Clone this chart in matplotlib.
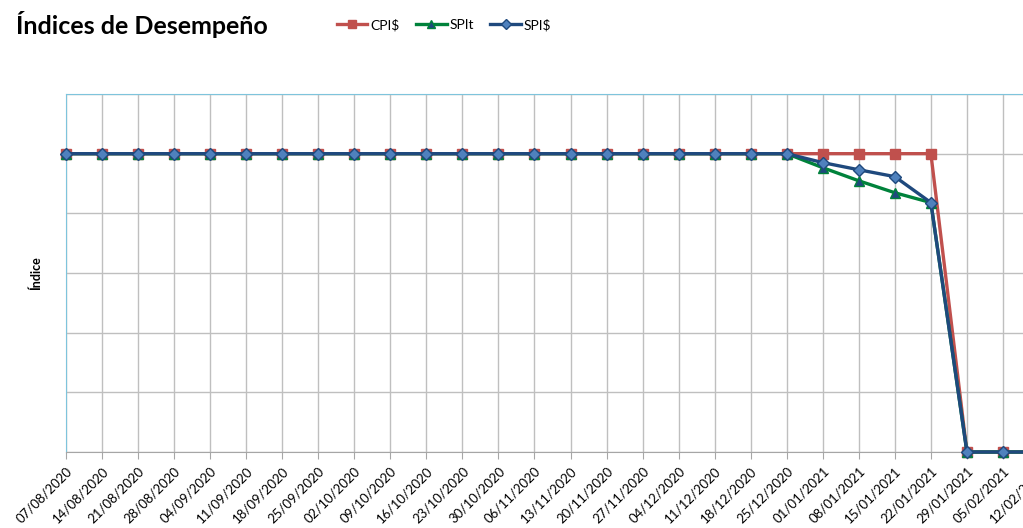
import matplotlib.pyplot as plt

plt.rcParams['font.family'] = ['Lato', 'DejaVu Sans']

# Fechas semanales (eje de categorías)
fechas = ["07/08/2020", "14/08/2020", "21/08/2020", "28/08/2020", "04/09/2020",
          "11/09/2020", "18/09/2020", "25/09/2020", "02/10/2020", "09/10/2020",
          "16/10/2020", "23/10/2020", "30/10/2020", "06/11/2020", "13/11/2020",
          "20/11/2020", "27/11/2020", "04/12/2020", "11/12/2020", "18/12/2020",
          "25/12/2020", "01/01/2021", "08/01/2021", "15/01/2021", "22/01/2021",
          "29/01/2021", "05/02/2021", "12/02/2021"]

cpi = [1.0] * 25 + [0.0, 0.0, 0.0]
spit = [1.0] * 21 + [0.953, 0.909, 0.869, 0.836] + [0.0, 0.0, 0.0]
spi = [1.0] * 21 + [0.970, 0.946, 0.923, 0.836] + [0.0, 0.0, 0.0]

fig = plt.figure(figsize=(10.23, 5.28), dpi=100)
ax = fig.add_axes([66 / 1023, 76 / 528, (1039 - 66) / 1023, (452 - 94) / 528])

x = list(range(len(fechas)))
ax.plot(x, cpi, color="#C0504D", lw=2.4, marker="s", ms=7,
        mfc="#C0504D", mec="#C0504D", label="CPI$", zorder=3, clip_on=False)
ax.plot(x, spit, color="#00823B", lw=2.4, marker="^", ms=7.5,
        mfc="#1F497D", mec="#00823B", mew=1, label="SPIt", zorder=4, clip_on=False)
ax.plot(x, spi, color="#1F497D", lw=2.4, marker="D", ms=6,
        mfc="#4F81BD", mec="#1F497D", mew=1, label="SPI$", zorder=5, clip_on=False)

ax.set_xlim(0, len(fechas) - 1)
ax.set_ylim(0, 1.2)
ax.set_xticks(x)
ax.set_xticklabels(fechas, rotation=45, ha="right", rotation_mode="anchor",
                   fontsize=9.5)
ax.tick_params(axis="x", length=5, color="#A6A6A6", pad=4)
ax.set_yticks([0, 0.2, 0.4, 0.6, 0.8, 1.0, 1.2])
ax.set_yticklabels([])
ax.tick_params(axis="y", length=0)
ax.grid(True, color="#BFBFBF", lw=1)
ax.set_axisbelow(True)

for side in ["left", "top"]:
    ax.spines[side].set_color("#7EC4DC")
ax.spines["bottom"].set_color("#A6A6A6")
ax.spines["right"].set_visible(False)

ax.set_ylabel("Índice", fontsize=9, fontweight="bold", labelpad=14)

fig.text(16 / 1023, 1 - 25 / 528, "Índices de Desempeño", fontsize=18,
         fontweight="bold", va="center", ha="left")
fig.legend(loc="center", bbox_to_anchor=(444 / 1023, 1 - 25 / 528), ncol=3,
           frameon=False, fontsize=10, handlelength=2.2, handletextpad=0.2,
           columnspacing=1.2, markerscale=0.8)

fig.savefig("out.png", dpi=100)
